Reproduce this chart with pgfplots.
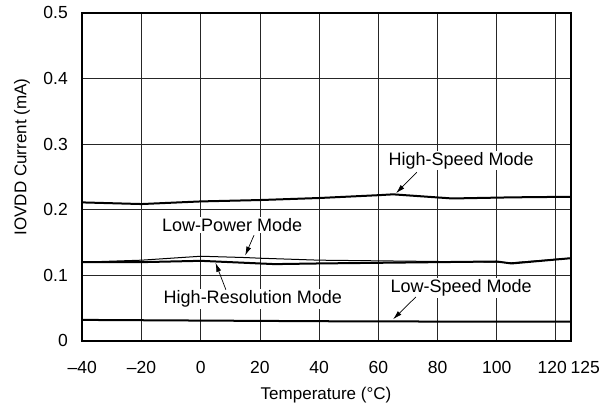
\documentclass[border=0pt]{standalone}
\usepackage{pgfplots}
\pgfplotsset{compat=1.18}
\usepackage{fontspec}
\setmainfont{Liberation Sans}
\usetikzlibrary{arrows.meta}
\begin{document}
\begin{tikzpicture}
\begin{axis}[
  scale only axis,
  width=488bp, height=328bp,
  xmin=-40, xmax=125, ymin=0, ymax=0.5,
  xtick={-40,-20,0,20,40,60,80,100,120,125},
  xticklabels={\textendash40,\textendash20,0,20,40,60,80,100,\makebox[0pt][r]{120\hspace{-11bp}},\makebox[0pt][l]{125}},
  ytick={0,0.1,0.2,0.3,0.4,0.5},
  yticklabels={0,0.1,0.2,0.3,0.4,0.5},
  major tick length=0pt,
  grid=major,
  major grid style={black!85, line width=0.8bp},
  axis line style={line width=2bp},
  tick label style={font=\fontsize{17.5bp}{20bp}\selectfont},
  label style={font=\fontsize{17bp}{20bp}\selectfont},
  xticklabel style={yshift=-17bp},
  yticklabel style={xshift=-11bp},
  xlabel={Temperature (°C)},
  ylabel={IOVDD Current (mA)},
  xlabel style={at={(axis description cs:0.499,-0.1645)}, anchor=center},
  ylabel style={at={(axis description cs:-0.1235,0.56)}, anchor=center},
  /pgf/number format/assume math mode=true,
  clip=false,
]
% High-Speed Mode
\addplot[black, line width=2bp] coordinates {
 (-40,0.211) (-20,0.2085) (0,0.2125) (20,0.2146) (40,0.2177) (60,0.222) (65,0.2233) (85,0.217) (105,0.2187) (125,0.2196)};
% Low-Power Mode
\addplot[black, line width=1bp] coordinates {
 (-40,0.120) (-20,0.123) (0,0.129) (15,0.127) (20,0.126) (40,0.123) (60,0.122) (80,0.121) (100,0.120) (105,0.119) (125,0.126)};
% High-Resolution Mode
\addplot[black, line width=2bp] coordinates {
 (-40,0.120) (-20,0.120) (0,0.122) (5,0.121) (25,0.117) (40,0.118) (60,0.119) (80,0.120) (100,0.121) (105,0.118) (125,0.126)};
% Low-Speed Mode
\addplot[black, line width=2bp] coordinates {
 (-40,0.032) (0,0.031) (40,0.030) (80,0.0295) (125,0.0294)};

\begin{scope}[font=\fontsize{18bp}{21bp}\selectfont]
\node[fill=white, inner sep=1.5bp] at (axis cs:88,0.275) {High-Speed Mode};
\draw[-{Latex[length=9bp,width=5bp]}, line width=0.7bp] (axis cs:73,0.257) -- (axis cs:66,0.225);
\node[fill=white, inner sep=1.5bp] at (axis cs:10.6,0.177) {Low-Power Mode};
\draw[-{Latex[length=9bp,width=5bp]}, line width=0.7bp] (axis cs:18,0.161) -- (axis cs:15,0.130);
\node[fill=white, inner sep=1.5bp] at (axis cs:17.6,0.064) {High-Resolution Mode};
\draw[-{Latex[length=9bp,width=5bp]}, line width=0.7bp] (axis cs:8.5,0.078) -- (axis cs:5,0.119);
\node[fill=white, inner sep=1.5bp] at (axis cs:88,0.081) {Low-Speed Mode};
\draw[-{Latex[length=9bp,width=5bp]}, line width=0.7bp] (axis cs:72.7,0.067) -- (axis cs:65,0.033);
\end{scope}
\end{axis}
\pgfresetboundingbox
\path[use as bounding box] ([shift={(-82.3bp,-65bp)}]current axis.south west) rectangle ([shift={(30.3bp,12.7bp)}]current axis.north east);
\end{tikzpicture}
\end{document}
